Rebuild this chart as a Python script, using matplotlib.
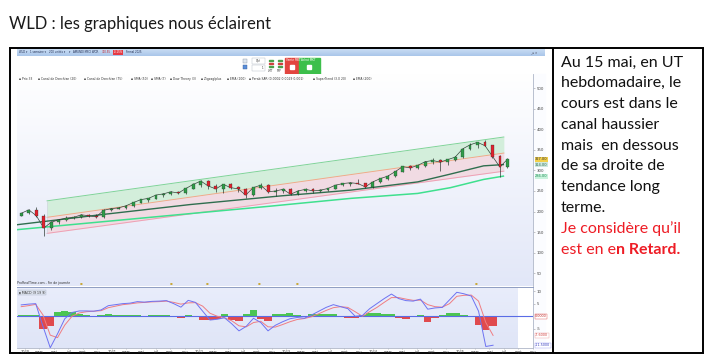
import matplotlib
matplotlib.use("Agg")
import matplotlib.pyplot as plt
import numpy as np
from matplotlib.patches import Rectangle
from matplotlib.colors import LinearSegmentedColormap

W, H = 710, 354
fig = plt.figure(figsize=(7.1, 3.54), dpi=100)
fig.patch.set_facecolor("white")

# ---------------- data ----------------
months = ["2019-12",
          "2020-01", "2020-02", "2020-03", "2020-04", "2020-05", "2020-06",
          "2020-07", "2020-08", "2020-09", "2020-10", "2020-11", "2020-12",
          "2021-01", "2021-02", "2021-03", "2021-04", "2021-05", "2021-06",
          "2021-07", "2021-08", "2021-09", "2021-10", "2021-11", "2021-12",
          "2022-01", "2022-02", "2022-03", "2022-04", "2022-05", "2022-06",
          "2022-07", "2022-08", "2022-09", "2022-10", "2022-11", "2022-12",
          "2023-01", "2023-02", "2023-03", "2023-04", "2023-05", "2023-06",
          "2023-07", "2023-08", "2023-09", "2023-10", "2023-11", "2023-12",
          "2024-01", "2024-02", "2024-03", "2024-04", "2024-05", "2024-06",
          "2024-07", "2024-08", "2024-09", "2024-10", "2024-11", "2024-12",
          "2025-01", "2025-02", "2025-03", "2025-04", "2025-05"]

price_open = [190, 196, 204, 190, 160, 174, 180, 184, 186, 192, 190, 187, 203,
              207, 209, 214, 222, 229, 232, 240, 243, 248, 245, 256, 266,
              274, 262, 255, 266, 258, 255, 240, 258, 264, 248, 250, 254,
              242, 250, 254, 250, 252, 256, 264, 268, 270, 268, 260, 272,
              280, 286, 297, 309, 306, 312, 321, 324, 320, 326, 332, 352,
              362, 368, 360, 334, 308]
price_high = [197, 206, 211, 194, 178, 182, 188, 190, 194, 195, 194, 205, 209,
              212, 216, 223, 230, 233, 241, 245, 250, 251, 257, 270, 276,
              277, 266, 268, 270, 262, 258, 260, 270, 266, 256, 258, 256,
              252, 258, 256, 254, 258, 265, 270, 272, 280, 270, 274, 282,
              288, 298, 310, 312, 314, 322, 329, 328, 328, 334, 354, 366,
              370, 373, 362, 338, 330]
price_low = [189, 194, 186, 140, 155, 170, 176, 182, 185, 186, 184, 185, 201,
             205, 207, 211, 220, 224, 230, 236, 241, 243, 243, 254, 260,
             255, 248, 245, 254, 248, 232, 238, 255, 245, 238, 246, 240,
             240, 248, 244, 247, 249, 254, 262, 262, 266, 256, 258, 270,
             276, 284, 295, 300, 303, 309, 316, 298, 314, 322, 330, 350,
             355, 358, 330, 285, 306]
price_close = [196, 204, 190, 160, 174, 180, 184, 186, 192, 190, 187, 203, 207,
               209, 214, 222, 229, 232, 240, 243, 248, 245, 256, 266, 274,
               262, 255, 266, 258, 255, 240, 258, 264, 248, 250, 254, 242,
               250, 254, 250, 252, 256, 264, 268, 270, 268, 260, 272, 280,
               286, 297, 309, 306, 312, 321, 324, 320, 326, 332, 352, 362,
               368, 360, 334, 308, 327]

macd_line = [4.5, 4.8, 5.0, -4.0, -12.5, -7.0, -1.0, 1.5, 2.1, 2.1, 2.0, 2.5, 4.2,
             4.6, 5.0, 5.2, 5.8, 5.6, 5.9, 6.0, 6.2, 5.0, 3.6, 6.3, 5.5,
             2.0, -1.5, -1.2, -0.6, -3.0, -5.8, -4.0, -0.8, -2.5, -5.8, -3.6, -2.2,
             -1.0, -0.5, -0.8, 0.5, 2.0, 3.5, 4.6, 3.8, 3.0, 0.0, 0.3, 3.0,
             5.0, 7.0, 8.8, 7.0, 6.2, 6.0, 6.8, 2.8, 3.3, 3.5, 6.5, 9.5,
             8.9, 8.0, 2.0, -12.0, -11.5]
macd_signal = [3.8, 4.2, 4.7, 0.5, -7.5, -8.5, -3.5, 0.0, 1.3, 1.8, 2.0, 2.2, 3.4,
               4.0, 4.6, 4.9, 5.3, 5.5, 5.7, 5.8, 6.0, 5.5, 4.8, 5.3, 5.4,
               4.0, 1.2, 0.0, -0.6, -1.8, -3.8, -4.2, -2.5, -2.0, -4.2, -4.3, -3.3,
               -2.2, -1.3, -0.9, -0.2, 1.0, 2.3, 3.4, 3.8, 3.5, 1.8, 0.0, 1.8,
               3.5, 5.5, 7.4, 7.4, 6.8, 6.3, 6.4, 4.6, 3.8, 3.6, 5.0, 7.9,
               8.3, 8.4, 6.0, -2.5, -7.6]
macd_hist = [0.5, 0.5, 0.4, -5.0, -4.0, 1.5, 2.0, 1.5, 0.8, 0.5, 0.2, 0.3, 0.7,
             0.5, 0.5, 0.5, 0.6, 0.2, 0.3, 0.3, 0.3, -0.4, -0.8, 0.6, 0.1,
             -1.6, -1.6, -1.0, 0.8, -1.5, -2.0, 0.8, 2.5, -1.2, -1.8, 0.7, 1.0,
             1.1, 0.5, -0.4, 0.7, 0.8, 0.9, 0.8, -0.2, -0.6, -0.8, 0.5, 1.1,
             1.1, 1.0, 1.0, -0.8, -1.0, -0.3, 0.4, -2.2, -0.5, 0.3, 1.2, 1.4,
             0.5, -0.3, -3.5, -5.5, -4.0]

# moving averages (decimal-year dates, values)
ma_dark_t = [2019.91, 2020.87, 2021.84, 2022.85, 2023.63, 2024.375, 2024.74, 2025.11, 2025.33]
ma_dark_v = [168, 193, 217, 238, 252, 272, 291, 311, 314]
ma_light_t = [2019.91, 2021.84, 2022.73, 2023.63, 2024.375, 2024.74, 2025.11, 2025.33]
ma_light_v = [156, 195, 213, 232, 244, 258, 278, 286]

# rising channel
channel_t = [2020.245, 2025.335]
channel_top = [226, 381]
channel_mid = [186, 342]
channel_bot = [147, 298]

price_ticks = [50, 100, 150, 200, 250, 300, 350, 400, 450, 500]
macd_ticks = [10, 5, -5]
tick_months = [(y, m) for y in range(2020, 2026) for m in (1, 3, 5, 7, 9, 11)]
month_names = {1: None, 3: "mars", 5: "mai", 7: "juil", 9: "sept", 11: "nov"}

title = "WLD : les graphiques nous éclairent"
comment_lines = ["Au 15 mai, en UT", "hebdomadaire, le", "cours est dans le",
                 "canal haussier", "mais  en dessous", "de sa droite de",
                 "tendance long", "terme."]
comment_red = ["Je considère qu’il"]
comment_last = ("est en e", "n Retard.")

toolbar_items = [("WLD ▾", "#1e2a50", None), ("1 semaine ▾", "#1e2a50", None),
                 ("200 unités ▾", "#1e2a50", None), ("▾", "#1e2a50", None),
                 ("AMUNDI MSCI WOR", "#1e2a50", None), ("320.55", "#c0202a", None),
                 ("-0.15%", "white", "#e53a44"), ("Fnmal 2025", "#1e2a50", None)]

indicators = ["Prix 33", "Canal de Donchian (20)", "Canal de Donchian (75)", "SMA (50)",
              "SMA (7)", "Dow Theory (3)", "Zigzag/plus", "EMA (100)",
              "Parab SAR (0.0002 0.0029 0.001)", "SuperTrend (3.0 20)", "EMA (200)"]

# ---------------- helpers ----------------
def rect(x0, y0, x1, y1):
    return [x0 / W, 1 - y1 / H, (x1 - x0) / W, (y1 - y0) / H]

def to_t(s):
    y, m = s.split("-")
    return int(y) + (int(m) - 0.5) / 12.0

t = np.array([to_t(s) for s in months])
XMIN, XMAX = 2019.91, 2025.66
FONT = "Lato"

# ---------------- background layer ----------------
bg = fig.add_axes([0, 0, 1, 1], zorder=0)
bg.set_xlim(0, W)
bg.set_ylim(H, 0)
bg.axis("off")

bg.text(9, 29, title, fontsize=12, family=FONT, color="#1b1b1b", va="baseline")

# toolbar gradient
tb = np.linspace(0, 1, 64).reshape(-1, 1)
bg.imshow(tb, extent=[17, 545, 56.5, 48], aspect="auto",
          cmap=LinearSegmentedColormap.from_list("tb", ["#d3e3f6", "#a9c6ea"]), zorder=1)
prev = None
for s, col, box in toolbar_items:
    kw = dict(fontsize=1.9, color=col, va="center", ha="left", zorder=3)
    if box:
        kw["bbox"] = dict(boxstyle="square,pad=0.25", fc=box, ec="none")
    if prev is None:
        prev = bg.text(19, 52.3, s, **kw)
    else:
        prev = bg.annotate(s, xy=(1, 0.5), xycoords=prev, xytext=(2.2, 0),
                           textcoords="offset points", **kw)
bg.text(530, 52.3, "_ ▫ ×", fontsize=2.0, color="#445", va="center", zorder=2)

# order buttons
bg.add_patch(Rectangle((285, 57.5), 14, 16.5, color="#e2453f", zorder=2))
bg.add_patch(Rectangle((299, 57.5), 21, 16.5, color="#3dbf4b", zorder=2))
bg.text(286, 60, "Vente MKT", fontsize=2.0, color="white", va="center", zorder=3)
bg.text(301, 60, "Achat MKT", fontsize=2.0, color="white", va="center", zorder=3)
for x in (290, 307):
    bg.add_patch(Rectangle((x, 65), 3.5, 4, color="white", zorder=3))
bg.add_patch(Rectangle((243, 58.5), 4, 4, fc="#dfe6ee", ec="#8a96a8", lw=0.3, zorder=2))
bg.add_patch(Rectangle((243, 65), 4, 4, fc="#5b8ed8", ec="#36609c", lw=0.3, zorder=2))
bg.add_patch(Rectangle((252, 58), 13, 6, fc="white", ec="#b0b8c4", lw=0.3, zorder=2))
bg.add_patch(Rectangle((252, 65), 13, 6, fc="white", ec="#b0b8c4", lw=0.3, zorder=2))
bg.text(256, 61, "Qté", fontsize=2.0, color="#333", va="center", zorder=3)
bg.text(262, 68, "1", fontsize=2.0, color="#333", va="center", zorder=3)
bg.text(268, 71.5, "LMT", fontsize=1.9, color="#333", zorder=3)
bg.text(277, 71.5, "STP", fontsize=1.9, color="#333", zorder=3)
for x in (268.5, 277.5):
    for yy in (60, 63, 66):
        bg.add_patch(Rectangle((x, yy), 4, 1.2, color="#4aa04a" if yy != 63 else "#d04040", zorder=2))

# right axis background
bg.add_patch(Rectangle((533, 74), 12, 278, color="#fbfcff", zorder=1))

# frame (table borders)
kw = dict(color="black", lw=1.4, solid_capstyle="butt", zorder=5)
bg.plot([9, 703.5], [47.5, 47.5], **kw)
bg.plot([9, 703.5], [352.8, 352.8], **kw)
bg.plot([9.5, 9.5], [47.5, 352.8], **kw)
bg.plot([703, 703], [47.5, 352.8], **kw)
bg.plot([552.5, 552.5], [47.5, 352.8], **kw)

# comment text
y0 = 66.5
LS = 20.8
for i, line in enumerate(comment_lines):
    bg.text(561, y0 + i * LS, line, fontsize=11.5, family=FONT, color="#111", va="baseline")
for j, line in enumerate(comment_red):
    bg.text(561, y0 + (len(comment_lines) + j) * LS, line, fontsize=11.5,
            family=FONT, color="#ee1c25", va="baseline")
yl = y0 + (len(comment_lines) + len(comment_red)) * LS
t1 = bg.text(561, yl, comment_last[0], fontsize=11.5, family=FONT, color="#ee1c25", va="baseline")
bg.annotate(comment_last[1], xy=(1, 0), xycoords=t1, fontsize=11.5, family=FONT,
            fontweight="bold", color="#ee1c25", va="bottom", ha="left")

# ---------------- price panel ----------------
ax = fig.add_axes(rect(17, 74, 533, 286.5), zorder=2)
YMIN, YMAX = 18, 534
grad = np.linspace(0, 1, 256).reshape(-1, 1)
ax.imshow(grad, extent=[XMIN, XMAX, YMIN, YMAX], aspect="auto", origin="upper",
          cmap=LinearSegmentedColormap.from_list("pg", ["#ffffff", "#e2e7f8"]), zorder=0)
ax.set_xlim(XMIN, XMAX)
ax.set_ylim(YMIN, YMAX)

ax.fill_between(channel_t, channel_mid, channel_top, color="#d3eedb", lw=0, zorder=1)
ax.fill_between(channel_t, channel_bot, channel_mid, color="#f1dbe3", lw=0, zorder=1)
ax.plot(channel_t, channel_top, color="#7fd497", lw=0.7, zorder=2)
ax.plot(channel_t, channel_mid, color="#f2a98a", lw=0.7, zorder=2)
ax.plot(channel_t, channel_bot, color="#eea0b4", lw=0.7, zorder=2)
ax.plot([channel_t[0]] * 2, [channel_bot[0], channel_top[0]], color="#c8d0d8", lw=0.4, zorder=2)

ax.plot(ma_dark_t, ma_dark_v, color="#2f6e4f", lw=1.0, zorder=3)
ax.plot(ma_light_t, ma_light_v, color="#3fe08e", lw=1.1, zorder=3)

o = np.array(price_open); c = np.array(price_close)
up = c >= o
ax.plot(t, c, color="#33463a", lw=0.5, zorder=4)
ax.vlines(t, price_low, price_high, color="#1d2a22", lw=0.45, zorder=4)
ax.bar(t, np.abs(c - o) + 0.8, bottom=np.minimum(o, c) - 0.4, width=0.032,
       color=np.where(up, "#2f9c48", "#e0232f"), edgecolor="#1d2a22", linewidth=0.2, zorder=5)

ax.yaxis.tick_right()
ax.set_yticks(price_ticks)
ax.set_yticklabels([str(v) for v in price_ticks], fontsize=2.8, color="#444")
ax.tick_params(axis="y", length=1.5, width=0.4, pad=1.2, color="#999")
ax.set_xticks([])
for s in ("top", "left"):
    ax.spines[s].set_visible(False)
ax.spines["right"].set_color("#aeb6c8"); ax.spines["right"].set_linewidth(0.6)
ax.spines["bottom"].set_color("#8f9dc2"); ax.spines["bottom"].set_linewidth(0.7)

ytrans = ax.get_yaxis_transform()
labels_r = [(price_close[-1], "#f2cf4a", "#333"), (ma_dark_v[-1], "#cfe8e0", "#2f6e4f"),
            (ma_light_v[-1], "#c9f3dd", "#1e8a55")]
for v, fc, tc in labels_r:
    ax.text(1.004, v, f"{v:.2f}", transform=ytrans, fontsize=2.6, color=tc, va="center",
            ha="left", bbox=dict(boxstyle="square,pad=0.15", fc=fc, ec="none"), clip_on=False)

x = 0.004
for name in indicators:
    ax.text(x, 0.985, "▪ " + name, transform=ax.transAxes, fontsize=2.2, color="#333",
            va="top", ha="left")
    x += (len(name) + 3) * 0.0036
ax.text(0.0, 0.008, "ProRealTime.com - Fin de journée", transform=ax.transAxes,
        fontsize=2.3, color="#333", va="bottom")
for nt in (2020.62, 2021.63, 2022.03, 2022.61, 2023.03, 2025.03):
    ax.text(nt, 0.008, "▪", transform=ax.get_xaxis_transform(), fontsize=3,
            color="#c9a93a", ha="center", va="bottom")

# ---------------- MACD panel ----------------
am = fig.add_axes(rect(17, 286.5, 533, 348), zorder=2)
MMIN, MMAX = -12.6, 11.8
am.imshow(grad, extent=[XMIN, XMAX, MMIN, MMAX], aspect="auto", origin="upper",
          cmap=LinearSegmentedColormap.from_list("mg", ["#e9edfb", "#dfe5f7"]), zorder=0)
am.set_xlim(XMIN, XMAX)
am.set_ylim(MMIN, MMAX)
hist = np.array(macd_hist)
am.bar(t, hist, width=1 / 12, color=np.where(hist >= 0, "#4cc552", "#e04a4e"), lw=0, zorder=1)
am.axhline(0, color="#5a6ce6", lw=0.8, zorder=2)
am.plot(t, macd_signal, color="#f07d82", lw=0.7, zorder=3)
am.plot(t, macd_line, color="#6d72f2", lw=0.7, zorder=4)

am.yaxis.tick_right()
am.set_yticks(macd_ticks)
am.set_yticklabels([str(v) for v in macd_ticks], fontsize=2.8, color="#444")
am.tick_params(axis="y", length=1.5, width=0.4, pad=1.2, color="#999")
tpos = [y + (m - 1) / 12 for y, m in tick_months]
tlab = [str(y) if m == 1 else month_names[m] for y, m in tick_months]
am.set_xticks(tpos)
am.set_xticklabels(tlab, fontsize=2.5, color="#333")
am.tick_params(axis="x", length=1.0, width=0.4, pad=0.4, color="#999")
am.spines["left"].set_visible(False)
am.spines["top"].set_color("#8f9dc2"); am.spines["top"].set_linewidth(0.7)
am.spines["right"].set_color("#aeb6c8"); am.spines["right"].set_linewidth(0.6)
am.spines["bottom"].set_color("#aeb6c8"); am.spines["bottom"].set_linewidth(0.6)
mtrans = am.get_yaxis_transform()
for v, ec, tc in [(0.0, "#e05050", "#c03030"), (macd_signal[-1], "#f0a0a0", "#d04040"),
                  (macd_line[-1], "#9ba0f4", "#3a40c0")]:
    am.text(1.004, v, f"{v:.4f}", transform=mtrans, fontsize=2.4, color=tc, va="center",
            ha="left", bbox=dict(boxstyle="square,pad=0.15", fc="white", ec=ec, lw=0.3),
            clip_on=False)
am.text(0.004, 0.93, "▮ MACD (9 19 9)", transform=am.transAxes, fontsize=2.3, color="#333",
        va="top", bbox=dict(boxstyle="square,pad=0.2", fc="#dde3ef", ec="#aab4c8", lw=0.3))

fig.savefig("out.png", dpi=100)
